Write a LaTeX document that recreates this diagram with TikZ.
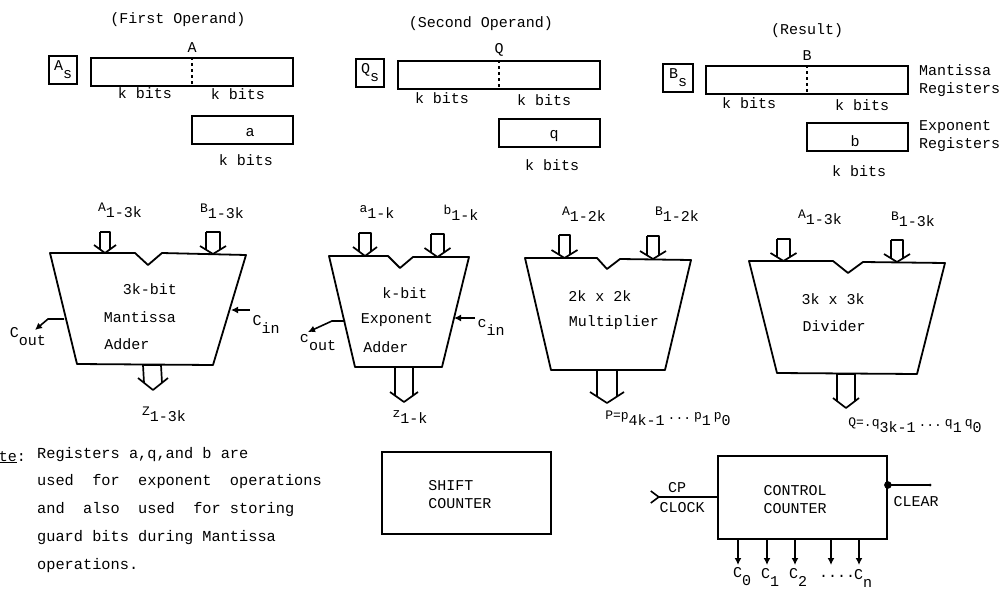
\documentclass[tikz,border=0pt]{standalone}
\usepackage{fontspec}
\setmainfont{Liberation Mono}
\usepackage{tikz}
\usetikzlibrary{positioning,calc,arrows.meta}

\newcommand{\sublab}[2]{\raisebox{6pt}{\fontsize{13}{13}\selectfont #1}#2}
\newcommand{\lowlab}[2]{#1\raisebox{-8pt}{#2}}

\begin{document}
\begin{tikzpicture}[
    x=1pt, y=-1pt,
    lab/.style={inner sep=0pt, font=\fontsize{15}{18}\selectfont},
    regbox/.style={draw, rectangle, line width=1.8pt, inner sep=0pt, lab, minimum height=28pt},
    unit/.style={draw, line width=1.8pt, line join=round},
    line/.style={-{Latex[length=7pt,width=7pt]}, line width=1.6pt},
    bus/.style n args={3}{line width=1.7pt, line join=round, to path={
        ($(\tikztostart)+(-#1,0)$) -- ($(\tikztotarget)+(-#1,{-#3*#1/#2})$)
        ($(\tikztotarget)+(-#2,-#3)$) -- (\tikztotarget) -- ($(\tikztotarget)+(#2,-#3)$)
        ($(\tikztotarget)+(#1,{-#3*#1/#2})$) -- ($(\tikztostart)+(#1,0)$) -- ($(\tikztostart)+(-#1,0)$)}}
]
\useasboundingbox (0,0) rectangle (1002,589);

% Top row: registers
\node[lab] (titleA) at (178,20) {(First Operand)};
\node[regbox, minimum width=202pt] (regA) at (192,72) {};
\node[lab, above=4pt of regA] (nameA) {A};
\node[regbox, minimum width=28pt, left=12pt of regA, yshift=2pt] (signA) {\lowlab{A}{s}};
\node[regbox, minimum width=101pt, below=28pt of regA.south east, anchor=north east] (expA) {};
\node[lab] (letterA) at (250,133) {a};
\node[lab] (bitsA1) at (145,93) {k bits};
\node[lab] (bitsA2) at (238,94) {k bits};
\node[lab] (bitsA3) at (246,160) {k bits};
\draw[dashed, line width=1.5pt] (regA.north) -- (regA.south);

\node[lab] (titleQ) at (481,24) {(Second Operand)};
\node[regbox, minimum width=202pt] (regQ) at (499,75) {};
\node[lab, above=4pt of regQ] (nameQ) {Q};
\node[regbox, minimum width=28pt, left=12pt of regQ, yshift=2pt] (signQ) {\lowlab{Q}{s}};
\node[regbox, minimum width=101pt, below=28pt of regQ.south east, anchor=north east] (expQ) {};
\node[lab] (letterQ) at (554,136) {q};
\node[lab] (bitsQ1) at (442,98) {k bits};
\node[lab] (bitsQ2) at (544,100) {k bits};
\node[lab] (bitsQ3) at (552,165) {k bits};
\draw[dashed, line width=1.5pt] (regQ.north) -- (regQ.south);

\node[lab] (titleB) at (807,31) {(Result)};
\node[regbox, minimum width=202pt] (regB) at (807,80) {};
\node[lab, above=4pt of regB] (nameB) {B};
\node[regbox, minimum width=30pt, left=11pt of regB, yshift=2pt] (signB) {\lowlab{B}{s}};
\node[regbox, minimum width=101pt, below=27pt of regB.south east, anchor=north east] (expB) {};
\node[lab] (letterB) at (855,141) {b};
\node[lab] (bitsB1) at (749,103) {k bits};
\node[lab] (bitsB2) at (862,105) {k bits};
\node[lab] (bitsB3) at (859,171) {k bits};
\draw[dashed, line width=1.5pt] (regB.north) -- (regB.south);

\node[lab, align=left, anchor=west] (mantlab) at (919,81) {Mantissa\\Registers};
\node[lab, align=left, anchor=west] (explab) at (919,136) {Exponent\\Registers};

% Mantissa adder
\draw[unit] (50,253) -- (135,253) -- (148,265) -- (162,253) -- (246,255) -- (213,365) -- (77,364) -- cycle;
\node[lab] (addM1) at (150,289) {3k-bit};
\node[lab] (addM2) at (140,317) {Mantissa};
\node[lab] (addM3) at (127,344) {Adder};
\node[lab] (inMA) at (120,210) {\sublab{A}{1-3k}};
\node[lab] (inMB) at (222,211) {\sublab{B}{1-3k}};
\node[lab] (coutM) at (28,337) {\lowlab{C}{out}};
\node[lab] (cinM) at (266,324) {\lowlab{C}{in}};
\node[lab] (outM) at (164,414) {\sublab{Z}{1-3k}};
\coordinate (busMA) at (105,232);
\coordinate (tipMA) at (105,253);
\coordinate (busMB) at (213,232);
\coordinate (tipMB) at (213,254);
\coordinate (busMZ) at (152,365);
\coordinate (tipMZ) at (153,390);
\draw[bus={5}{11}{8}] (busMA) to (tipMA);
\draw[bus={7}{13}{8}] (busMB) to (tipMB);
\draw[bus={9}{15}{12}] (busMZ) to (tipMZ);
\draw[line] (250,310) -- (231,310);
\draw[line] (64,319) -- (48,319) -- (35,330);

% Exponent adder
\draw[unit] (329,256) -- (388,256) -- (400,268) -- (413,257) -- (469,257) -- (442,367) -- (355,367) -- cycle;
\node[lab] (addE1) at (405,293) {k-bit};
\node[lab] (addE2) at (397,320) {Exponent};
\node[lab] (addE3) at (386,347) {Adder};
\node[lab] (inEa) at (377,212) {\sublab{a}{1-k}};
\node[lab] (inEb) at (461,213) {\sublab{b}{1-k}};
\node[lab] (coutE) at (318,343) {\lowlab{c}{out}};
\node[lab] (cinE) at (491,327) {\lowlab{c}{in}};
\node[lab] (outE) at (410,417) {\sublab{z}{1-k}};
\coordinate (busEa) at (365,233);
\coordinate (tipEa) at (365,256);
\coordinate (busEb) at (437.5,234);
\coordinate (tipEb) at (437.5,257);
\coordinate (busEz) at (404,367);
\coordinate (tipEz) at (404,402);
\draw[bus={6}{12}{9}] (busEa) to (tipEa);
\draw[bus={6.5}{13}{9}] (busEb) to (tipEb);
\draw[bus={9}{14}{10}] (busEz) to (tipEz);
\draw[line] (475,318) -- (454,318);
\draw[line] (345,321) -- (332,321) -- (308,332);

% Multiplier
\draw[unit] (525,258) -- (597,258) -- (607,269) -- (620,259) -- (691,260) -- (665,370) -- (551,370) -- cycle;
\node[lab] (mul1) at (600,296) {2k x 2k};
\node[lab] (mul2) at (614,323) {Multiplier};
\node[lab] (inPA) at (584,214) {\sublab{A}{1-2k}};
\node[lab] (inPB) at (677,214) {\sublab{B}{1-2k}};
\node[lab] (outP) at (668,418) {\sublab{P=p}{4k-1}\hspace{3pt}\sublab{...}{}\hspace{3pt}\sublab{p}{1}\hspace{3pt}\sublab{p}{0}};
\coordinate (busPA) at (564.5,235);
\coordinate (tipPA) at (564.5,258);
\coordinate (busPB) at (653,236);
\coordinate (tipPB) at (653,259);
\coordinate (busPz) at (607,370);
\coordinate (tipPz) at (607,403);
\draw[bus={5.5}{13}{8}] (busPA) to (tipPA);
\draw[bus={6}{13}{8}] (busPB) to (tipPB);
\draw[bus={10}{17}{11}] (busPz) to (tipPz);

% Divider
\draw[unit] (749,261) -- (833,261) -- (848,273) -- (863,262) -- (945,263) -- (917,374) -- (777,373) -- cycle;
\node[lab] (div1) at (833,299) {3k x 3k};
\node[lab] (div2) at (834,326) {Divider};
\node[lab] (inDA) at (820,217) {\sublab{A}{1-3k}};
\node[lab] (inDB) at (913,219) {\sublab{B}{1-3k}};
\node[lab] (outD) at (915,425) {\sublab{Q=.q}{3k-1}\hspace{3pt}\sublab{...}{}\hspace{3pt}\sublab{q}{1}\hspace{3pt}\sublab{q}{0}};
\coordinate (busDA) at (783.5,239);
\coordinate (tipDA) at (783.5,261);
\coordinate (busDB) at (897,240);
\coordinate (tipDB) at (897,262);
\coordinate (busDz) at (846,374);
\coordinate (tipDz) at (846,408);
\draw[bus={6.5}{13}{8}] (busDA) to (tipDA);
\draw[bus={6}{13}{8}] (busDB) to (tipDB);
\draw[bus={9}{13}{10}] (busDz) to (tipDz);

% Bottom row: note and counters
\node[lab, anchor=base east] (notehead) at (26,461) {\underline{te}:};
\node[inner sep=0pt, font=\fontsize{15.3}{27.7}\selectfont, align=left, anchor=north west] (note) at (37,447)
    {Registers a,q,and b are\\used~~for~~exponent~~operations\\and~~also~~used~~for storing\\guard bits during Mantissa\\operations.};

\node[regbox, minimum width=169pt, minimum height=82pt] (shift) at (466.5,493) {};
\node[lab, align=left] (shifttext) at (460,495) {SHIFT\\COUNTER};

\node[regbox, minimum width=169pt, minimum height=83pt] (control) at (802.5,497.5) {};
\node[lab, align=center] (controltext) at (795,500) {CONTROL\\COUNTER};
\node[lab] (cp) at (677,488) {CP};
\node[lab] (clock) at (682,508) {CLOCK};
\node[lab] (clear) at (916,502) {CLEAR};
\coordinate (clockin) at (650,497);
\coordinate (clockto) at (control.west |- clockin);
\draw[{Straight Barb[reversed,length=8pt,width=12pt]}-, line width=1.6pt] (clockin) -- (clockto);
\coordinate (clearend) at (930,485);
\coordinate (clearat) at (control.east |- clearend);
\fill (clearat) circle (3.8);
\fill (clearend) circle (1.5);
\draw[line width=1.6pt] (clearat) -- (clearend);

% Control outputs
\foreach \xpos/\name in {738/0, 767/1, 795/2, 831/x, 859/n} {
    \coordinate (from\name) at (\xpos,539);
    \coordinate (to\name) at (\xpos,565);
    \draw[line] (from\name) -- (to\name);
}
\node[lab] (c0) at (742,577) {\lowlab{C}{0}};
\node[lab] (c1) at (770,577) {\lowlab{C}{1}};
\node[lab] (c2) at (798,577) {\lowlab{C}{2}};
\node[lab] (cdots) at (837,576) {....};
\node[lab] (cn) at (863,578) {\lowlab{C}{n}};

\end{tikzpicture}
\end{document}
